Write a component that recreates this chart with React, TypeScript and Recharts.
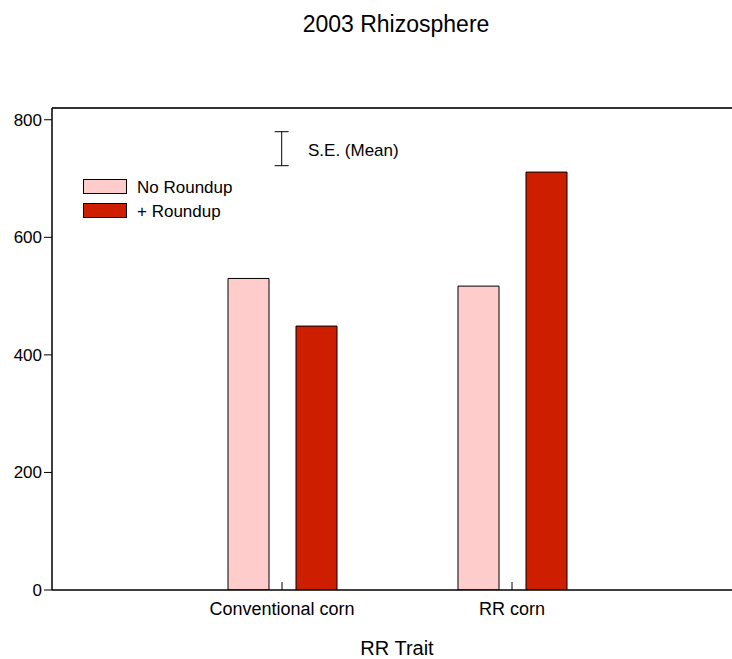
import React from 'react'
import {
  BarChart,
  Bar,
  XAxis,
  YAxis,
  Legend,
  ReferenceLine,
  Label
} from 'recharts'

// values
const traits = ['Conventional corn', 'RR corn']
const noRoundupValues = [530, 517]
const plusRoundupValues = [449, 711]
const seriesNames = ['No Roundup', '+ Roundup']
const yTicks = [0, 200, 400, 600, 800]

const data = traits.map((trait, i) => ({
  trait,
  noRoundup: noRoundupValues[i],
  plusRoundup: plusRoundupValues[i]
}))

const FONT = '"Liberation Sans", Arial, Helvetica, sans-serif'

const TraitTick = (props: any) => {
  const { x, y, payload } = props
  return (
    <g>
      <line x1={x} x2={x} y1={y - 8} y2={y} stroke='#000' strokeWidth={1} />
      <text
        x={x}
        y={y + 19}
        dy='0.355em'
        textAnchor='middle'
        fontSize={18}
        fontFamily={FONT}
        fill='#000'
      >
        {payload.value}
      </text>
    </g>
  )
}

const LegendBox = (props: any) => {
  const items = [...(props.payload || [])].sort(
    (a: any, b: any) => seriesNames.indexOf(a.value) - seriesNames.indexOf(b.value)
  )
  return (
    <svg width={320} height={100} style={{ display: 'block' }}>
      {/* S.E. (Mean) bracket */}
      <line x1={198.7} x2={198.7} y1={3.7} y2={37.7} stroke='#000' strokeWidth={1} />
      <line x1={191.7} x2={205.7} y1={3.7} y2={3.7} stroke='#000' strokeWidth={1} />
      <line x1={191.7} x2={205.7} y1={37.7} y2={37.7} stroke='#000' strokeWidth={1} />
      <text x={225} y={22} dy='0.355em' fontSize={17} fontFamily={FONT} fill='#000'>
        S.E. (Mean)
      </text>
      {items.map((item: any, i: number) => (
        <g key={item.value}>
          <rect
            x={0.5}
            y={51.5 + i * 24}
            width={43}
            height={14}
            fill={item.color}
            stroke='#000'
            strokeWidth={1}
          />
          <text
            x={54}
            y={58.5 + i * 24}
            dy='0.355em'
            fontSize={17}
            fontFamily={FONT}
            fill='#000'
          >
            {item.value}
          </text>
        </g>
      ))}
    </svg>
  )
}

const App: React.FC = () => {
  return (
    <div
      style={{
        position: 'relative',
        width: 732,
        height: 659,
        overflow: 'hidden',
        fontFamily: FONT
      }}
    >
      <style>{'html, body { margin: 0; padding: 0; overflow: hidden; }'}</style>
      <div
        style={{
          position: 'absolute',
          left: 0,
          top: 10,
          width: 792,
          textAlign: 'center',
          fontSize: 23,
          lineHeight: '28px',
          zIndex: 1
        }}
      >
        2003 Rhizosphere
      </div>
      <BarChart
        width={752}
        height={659}
        data={data}
        margin={{ top: 108, right: 10, bottom: 0, left: 0 }}
        barSize={41}
        barGap={27}
      >
        <XAxis
          dataKey='trait'
          height={69}
          padding={{ left: 115, right: 115 }}
          tickLine={false}
          tickSize={0}
          tickMargin={0}
          tick={<TraitTick />}
          axisLine={{ stroke: '#000', strokeWidth: 1.5 }}
          interval={0}
        >
          <Label
            value='RR Trait'
            position='insideBottom'
            offset={4}
            fontSize={20}
            fontFamily={FONT}
            fill='#000'
          />
        </XAxis>
        <YAxis
          width={52}
          domain={[0, 820]}
          ticks={yTicks}
          tickSize={8}
          tickMargin={2}
          tick={{ fontSize: 17, fontFamily: FONT, fill: '#000' }}
          tickLine={{ stroke: '#000', strokeWidth: 1 }}
          axisLine={{ stroke: '#000', strokeWidth: 1.5 }}
          allowDataOverflow
        />
        <ReferenceLine y={820} stroke='#333' strokeWidth={2} />
        <Legend
          layout='vertical'
          align='center'
          verticalAlign='middle'
          content={<LegendBox />}
          wrapperStyle={{ position: 'absolute', left: 83, top: 128, width: 320 }}
        />
        <Bar
          dataKey='noRoundup'
          name={seriesNames[0]}
          fill='#FFCCCC'
          stroke='#000'
          strokeWidth={1}
          isAnimationActive={false}
        />
        <Bar
          dataKey='plusRoundup'
          name={seriesNames[1]}
          fill='#CD1F00'
          stroke='#000'
          strokeWidth={1}
          isAnimationActive={false}
        />
      </BarChart>
    </div>
  )
}

export default App
